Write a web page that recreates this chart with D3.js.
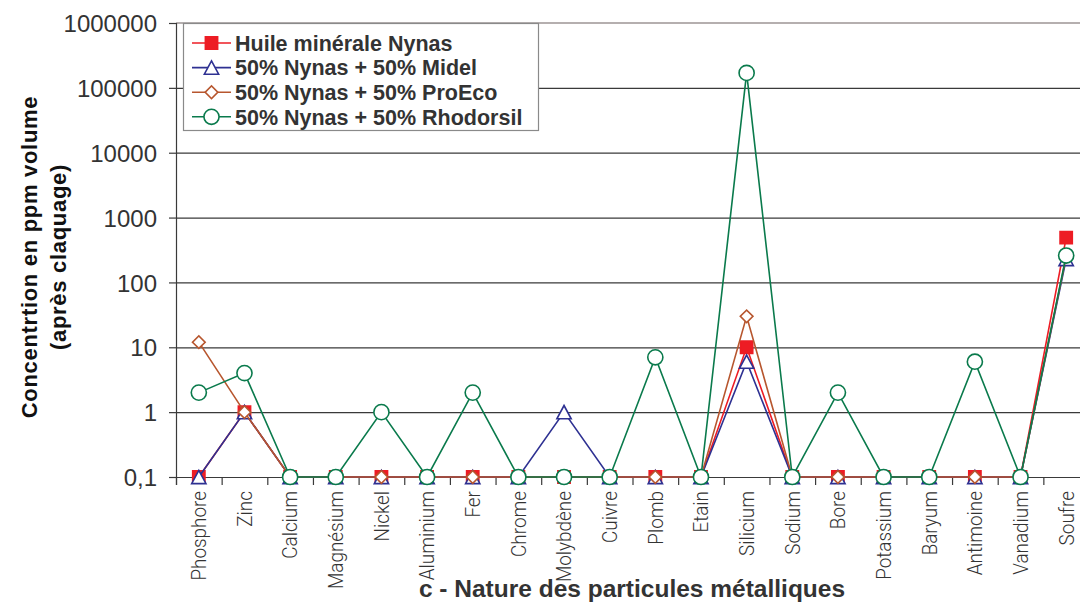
<!DOCTYPE html>
<html>
<head>
<meta charset="utf-8">
<script src="https://cdn.jsdelivr.net/npm/d3@7/dist/d3.min.js"></script>
<style>
  html, body { margin: 0; padding: 0; background: #fff; }
  svg { display: block; }
</style>
</head>
<body>
<svg id="chart" width="1080" height="602"></svg>
<script>
// Particle categories along the x axis
const categories = ["Phosphore", "Zinc", "Calcium", "Magnésium", "Nickel", "Aluminium", "Fer",
  "Chrome", "Molybdène", "Cuivre", "Plomb", "Etain", "Silicium", "Sodium", "Bore",
  "Potassium", "Baryum", "Antimoine", "Vanadium", "Soufre"];

// Concentrations in ppm volume (after breakdown); 0.1 is the detection floor
const nynas     = [0.1, 1, 0.1, 0.1, 0.1, 0.1, 0.1, 0.1, 0.1, 0.1, 0.1, 0.1, 10, 0.1, 0.1, 0.1, 0.1, 0.1, 0.1, 490];
const midel     = [0.1, 1, 0.1, 0.1, 0.1, 0.1, 0.1, 0.1, 1, 0.1, 0.1, 0.1, 6, 0.1, 0.1, 0.1, 0.1, 0.1, 0.1, 230];
const proeco    = [12, 1, 0.1, 0.1, 0.1, 0.1, 0.1, 0.1, 0.1, 0.1, 0.1, 0.1, 30, 0.1, 0.1, 0.1, 0.1, 0.1, 0.1, 250];
const rhodorsil = [2, 4, 0.1, 0.1, 1, 0.1, 2, 0.1, 0.1, 0.1, 7, 0.1, 170000, 0.1, 2, 0.1, 0.1, 6, 0.1, 260];

const seriesNames = ["Huile minérale Nynas", "50% Nynas + 50% Midel",
  "50% Nynas + 50% ProEco", "50% Nynas + 50% Rhodorsil"];

// Y axis ticks and their French-formatted labels
const yTicks = [0.1, 1, 10, 100, 1000, 10000, 100000, 1000000];
const yTickLabels = ["0,1", "1", "10", "100", "1000", "10000", "100000", "1000000"];

// Triangle marker centred on its bounding box
const triangleType = {
  draw(ctx, size) {
    const w = Math.sqrt(size * 2 / 0.93), h = w * 0.93;
    ctx.moveTo(0, -h / 2);
    ctx.lineTo(w / 2, h / 2);
    ctx.lineTo(-w / 2, h / 2);
    ctx.closePath();
  }
};

const series = [
  { name: seriesNames[0], values: nynas,     color: "#ed1c24", symbol: d3.symbolSquare, size: 150, fill: "#ed1c24", rotate: 0 },
  { name: seriesNames[1], values: midel,     color: "#2e3192", symbol: triangleType,    size: 95,  fill: "#fff",    rotate: 0 },
  { name: seriesNames[2], values: proeco,    color: "#b7562e", symbol: d3.symbolSquare, size: 80,  fill: "#fff",    rotate: 45 },
  { name: seriesNames[3], values: rhodorsil, color: "#0a7a4c", symbol: d3.symbolCircle, size: 180, fill: "#fff",    rotate: 0 }
];

const svg = d3.select("#chart");
const plotLeft = 176, plotRight = 1089, plotTop = 23, plotBottom = 477;

const x = d3.scaleBand().domain(categories).range([plotLeft, plotRight]);
const y = d3.scaleLog().domain([0.1, 1000000]).range([plotBottom, plotTop]);
const boundary = d3.scaleLinear().domain([0, categories.length]).range([plotLeft, plotRight]);

const textColor = "#333";

// Plot area border (top edge visible)
svg.append("line")
  .attr("x1", plotLeft).attr("x2", plotRight).attr("y1", plotTop).attr("y2", plotTop)
  .attr("stroke", "#9c9494").attr("stroke-width", 1.5);

// Horizontal gridlines
const grid = svg.append("g").attr("transform", `translate(${plotLeft},0)`)
  .call(d3.axisLeft(y).tickValues(yTicks.slice(0, -1)).tickSize(-(plotRight - plotLeft)).tickFormat(""));
grid.select(".domain").remove();
grid.selectAll("line").attr("stroke", "#3a3a3a").attr("stroke-width", 1.2);

// Y axis
const yAxis = svg.append("g").attr("transform", `translate(${plotLeft},0)`)
  .call(d3.axisLeft(y).tickValues(yTicks).tickFormat((d, i) => yTickLabels[i]).tickSize(7).tickPadding(12));
yAxis.select(".domain").attr("stroke", "#3a3a3a").attr("stroke-width", 1.2);
yAxis.selectAll("line").attr("stroke", "#3a3a3a").attr("stroke-width", 1.2);
yAxis.selectAll("text")
  .attr("font-family", "'Liberation Sans', Arial, sans-serif")
  .attr("font-size", 24).attr("fill", textColor).attr("dy", "0.36em");

// X axis baseline and category separator ticks
const xTicks = svg.append("g").attr("transform", `translate(0,${plotBottom})`)
  .call(d3.axisBottom(boundary).tickValues(d3.range(0, categories.length + 1)).tickSize(8).tickFormat(""));
xTicks.select(".domain").attr("stroke", "#3a3a3a").attr("stroke-width", 1.2);
xTicks.selectAll("line").attr("stroke", "#3a3a3a").attr("stroke-width", 1.2);

// Category labels, rotated
const xAxis = svg.append("g").attr("transform", `translate(0,${plotBottom})`)
  .call(d3.axisBottom(x).tickSize(0).tickPadding(0));
xAxis.select(".domain").remove();
xAxis.selectAll("text")
  .attr("font-family", "Roboto, 'DejaVu Sans', sans-serif")
  .attr("font-weight", 300)
  .attr("font-size", 21)
  .attr("fill", textColor)
  .attr("text-anchor", "end")
  .attr("dy", "0.35em")
  .attr("transform", "translate(0,14) rotate(-90) scale(0.9,1)");

// Series lines and markers
const line = d3.line().x((d, i) => x(categories[i]) + x.bandwidth() / 2).y(d => y(d));

series.forEach(s => {
  const g = svg.append("g");
  g.append("path")
    .attr("d", line(s.values))
    .attr("fill", "none").attr("stroke", s.color).attr("stroke-width", 1.6);
  g.selectAll("path.m").data(s.values).join("path")
    .attr("class", "m")
    .attr("d", d3.symbol().type(s.symbol).size(s.size))
    .attr("transform", (d, i) => `translate(${x(categories[i]) + x.bandwidth() / 2},${y(d)}) rotate(${s.rotate})`)
    .attr("fill", s.fill).attr("stroke", s.color).attr("stroke-width", 1.6);
});

// Legend
const legend = svg.append("g");
legend.append("rect")
  .attr("x", 183.5).attr("y", 23.5).attr("width", 355).attr("height", 107)
  .attr("fill", "#fff").attr("stroke", "#8a8a8a").attr("stroke-width", 1.2);
series.forEach((s, i) => {
  const cy = 43 + i * 24.6;
  const row = legend.append("g");
  row.append("line").attr("x1", 192).attr("x2", 231).attr("y1", cy).attr("y2", cy)
    .attr("stroke", s.color).attr("stroke-width", 1.6);
  row.append("path")
    .attr("d", d3.symbol().type(s.symbol).size(s.size))
    .attr("transform", `translate(211.5,${cy}) rotate(${s.rotate})`)
    .attr("fill", s.fill).attr("stroke", s.color).attr("stroke-width", 1.6);
  row.append("text")
    .attr("x", 235).attr("y", cy).attr("dy", "0.36em")
    .attr("font-family", "'Liberation Sans', Arial, sans-serif")
    .attr("font-weight", "bold").attr("font-size", 21.5)
    .attr("fill", textColor)
    .text(s.name);
});

// Y axis title (two lines)
const yTitle = svg.append("text")
  .attr("transform", "translate(0,257) rotate(-90)")
  .attr("text-anchor", "middle")
  .attr("font-family", "'Liberation Sans', Arial, sans-serif")
  .attr("font-weight", "bold").attr("font-size", 22)
  .attr("letter-spacing", 0.7)
  .attr("fill", "#111");
yTitle.append("tspan").attr("x", 0).attr("y", 37).text("Concentrtion en ppm volume");
yTitle.append("tspan").attr("x", 0).attr("y", 66).text("(après claquage)");

// X axis title
svg.append("text")
  .attr("x", 632).attr("y", 597)
  .attr("text-anchor", "middle")
  .attr("font-family", "'Liberation Sans Narrow', 'Liberation Sans', Arial, sans-serif")
  .attr("font-weight", "bold").attr("font-size", 24.5)
  .attr("fill", textColor)
  .text("c - Nature des particules métalliques");
</script>
</body>
</html>
